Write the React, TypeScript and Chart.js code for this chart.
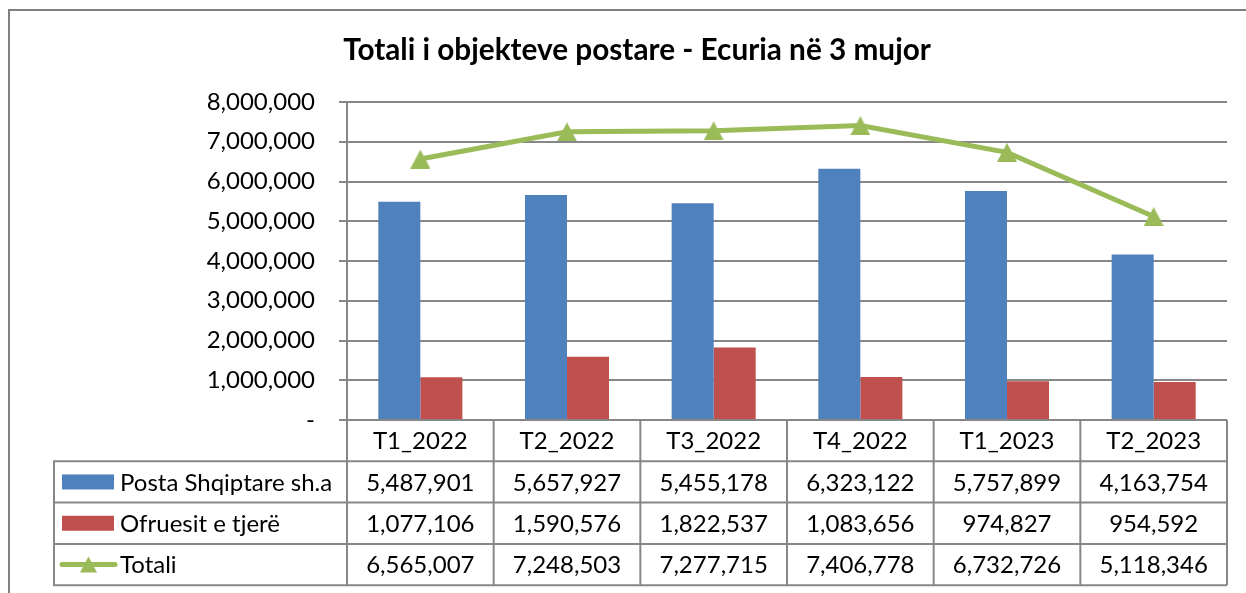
import React, { useEffect, useRef } from 'react';
import { Chart, registerables } from 'chart.js';

Chart.register(...registerables);

const chartTitle = 'Totali i objekteve postare - Ecuria në 3 mujor';
const categories = ['T1_2022', 'T2_2022', 'T3_2022', 'T4_2022', 'T1_2023', 'T2_2023'];
const postaValues = [5487901, 5657927, 5455178, 6323122, 5757899, 4163754];
const ofruesitValues = [1077106, 1590576, 1822537, 1083656, 974827, 954592];
const totaliValues = [6565007, 7248503, 7277715, 7406778, 6732726, 5118346];
const seriesNames = ['Posta Shqiptare sh.a', 'Ofruesit e tjerë', 'Totali'];
const yMin = 0;
const yMax = 8000000;
const yStep = 1000000;

const BLUE = '#4F81BD';
const RED = '#C0504D';
const GREEN = '#9BBB59';
const GRID = '#878787';
const FONT = 'Lato, "Open Sans", sans-serif';
const FONT_SIZE = 24;

const fmt = (v: number) => v.toLocaleString('en-US');

function makeTriangle(w: number, h: number): HTMLCanvasElement {
  const c = document.createElement('canvas');
  c.width = w;
  c.height = h;
  const g = c.getContext('2d')!;
  g.fillStyle = GREEN;
  g.beginPath();
  g.moveTo(w / 2, 0);
  g.lineTo(w, h);
  g.lineTo(0, h);
  g.closePath();
  g.fill();
  return c;
}

const tablePlugin = {
  id: 'dataTableAndFrame',
  afterDraw(chart: any) {
    const ctx: CanvasRenderingContext2D = chart.ctx;
    const area = chart.chartArea;
    const xs = chart.scales.x;
    const n = categories.length;
    const half = (xs.getPixelForValue(1) - xs.getPixelForValue(0)) / 2;
    const colEdges: number[] = [];
    for (let i = 0; i < n; i++) colEdges.push(xs.getPixelForValue(i) - half);
    colEdges.push(xs.getPixelForValue(n - 1) + half);

    const tableLeft = 54;
    const rowH = 41.3;
    const top = area.bottom;
    const rows = [top, top + rowH, top + 2 * rowH, top + 3 * rowH, top + 4 * rowH];
    const bottom = rows[4];

    ctx.save();
    // outer frame
    ctx.strokeStyle = '#808080';
    ctx.lineWidth = 2;
    ctx.beginPath();
    ctx.moveTo(9, chart.height);
    ctx.lineTo(9, 10);
    ctx.lineTo(chart.width, 10);
    ctx.stroke();

    // title
    ctx.fillStyle = '#000';
    ctx.textAlign = 'center';
    ctx.textBaseline = 'alphabetic';
    ctx.font = `bold 24px ${FONT}`;
    const w = ctx.measureText(chartTitle).width;
    const ts = (24 * 588) / w;
    ctx.font = `bold ${ts}px ${FONT}`;
    ctx.fillText(chartTitle, 637, 60);

    // table lines
    ctx.strokeStyle = GRID;
    ctx.lineWidth = 2;
    ctx.beginPath();
    for (const x of colEdges) {
      ctx.moveTo(x, top);
      ctx.lineTo(x, bottom);
    }
    for (let r = 1; r < rows.length; r++) {
      ctx.moveTo(tableLeft, rows[r]);
      ctx.lineTo(colEdges[n], rows[r]);
    }
    ctx.moveTo(tableLeft, rows[1] - 1);
    ctx.lineTo(tableLeft, bottom + 1);
    ctx.stroke();

    // text
    ctx.font = `${FONT_SIZE}px ${FONT}`;
    ctx.fillStyle = '#000';
    ctx.textAlign = 'center';
    ctx.textBaseline = 'middle';
    const seriesVals = [postaValues, ofruesitValues, totaliValues];
    for (let i = 0; i < n; i++) {
      const cx = xs.getPixelForValue(i);
      ctx.fillText(categories[i], cx, (rows[0] + rows[1]) / 2 + 1);
      for (let s = 0; s < 3; s++) {
        ctx.fillText(fmt(seriesVals[s][i]), cx, (rows[s + 1] + rows[s + 2]) / 2 + 1);
      }
    }

    // legend keys
    ctx.textAlign = 'left';
    for (let s = 0; s < 3; s++) {
      const cy = (rows[s + 1] + rows[s + 2]) / 2;
      if (s < 2) {
        ctx.fillStyle = s === 0 ? BLUE : RED;
        ctx.fillRect(62, cy - 7.5, 52, 15);
      } else {
        ctx.strokeStyle = GREEN;
        ctx.lineWidth = 5;
        ctx.lineCap = 'round';
        ctx.beginPath();
        ctx.moveTo(62, cy);
        ctx.lineTo(115, cy);
        ctx.stroke();
        ctx.fillStyle = GREEN;
        ctx.beginPath();
        ctx.moveTo(88.5, cy - 8);
        ctx.lineTo(97, cy + 8);
        ctx.lineTo(80, cy + 8);
        ctx.closePath();
        ctx.fill();
      }
      ctx.fillStyle = '#000';
      ctx.font = `${FONT_SIZE}px ${FONT}`;
      const lw = ctx.measureText(seriesNames[s]).width;
      if (lw > 219) ctx.font = `${(FONT_SIZE * 219) / lw}px ${FONT}`;
      ctx.fillText(seriesNames[s], 120, cy + 1);
    }
    ctx.restore();
  },
};

export default function App() {
  const ref = useRef<HTMLCanvasElement | null>(null);

  useEffect(() => {
    if (!ref.current) return;
    const tri = makeTriangle(20, 19);
    const chart = new Chart(ref.current, {
      type: 'bar',
      data: {
        labels: categories,
        datasets: [
          {
            type: 'line',
            label: seriesNames[2],
            data: totaliValues,
            borderColor: GREEN,
            backgroundColor: GREEN,
            borderWidth: 5,
            pointStyle: tri as any,
            pointRadius: 10,
            order: 1,
          } as any,
          {
            label: seriesNames[0],
            data: postaValues,
            backgroundColor: BLUE,
            borderWidth: 0,
            categoryPercentage: 0.573,
            barPercentage: 1,
            order: 2,
          },
          {
            label: seriesNames[1],
            data: ofruesitValues,
            backgroundColor: RED,
            borderWidth: 0,
            categoryPercentage: 0.573,
            barPercentage: 1,
            order: 2,
          },
        ],
      },
      options: {
        responsive: false,
        animation: false,
        devicePixelRatio: 1,
        layout: { padding: { left: 0, right: 19, top: 102, bottom: 173 } },
        plugins: {
          legend: { display: false },
          tooltip: { enabled: false },
          title: { display: false },
        },
        scales: {
          x: { display: false, offset: true },
          y: {
            min: yMin,
            max: yMax,
            ticks: {
              stepSize: yStep,
              padding: 24,
              color: '#000',
              font: { family: FONT, size: FONT_SIZE },
              callback: (v: any) => (Number(v) === 0 ? '-' : fmt(Number(v))),
            },
            grid: { color: GRID, lineWidth: 2, tickLength: 8, drawTicks: true },
            border: { color: GRID, width: 2 },
            afterFit: (scale: any) => {
              scale.width = 347;
            },
          },
        },
      },
      plugins: [tablePlugin],
    });
    return () => chart.destroy();
  }, []);

  return (
    <div style={{ position: 'fixed', left: 0, top: 0, width: 1246, height: 593, background: '#fff' }}>
      <canvas ref={ref} width={1246} height={593} style={{ width: 1246, height: 593, display: 'block' }} />
    </div>
  );
}
